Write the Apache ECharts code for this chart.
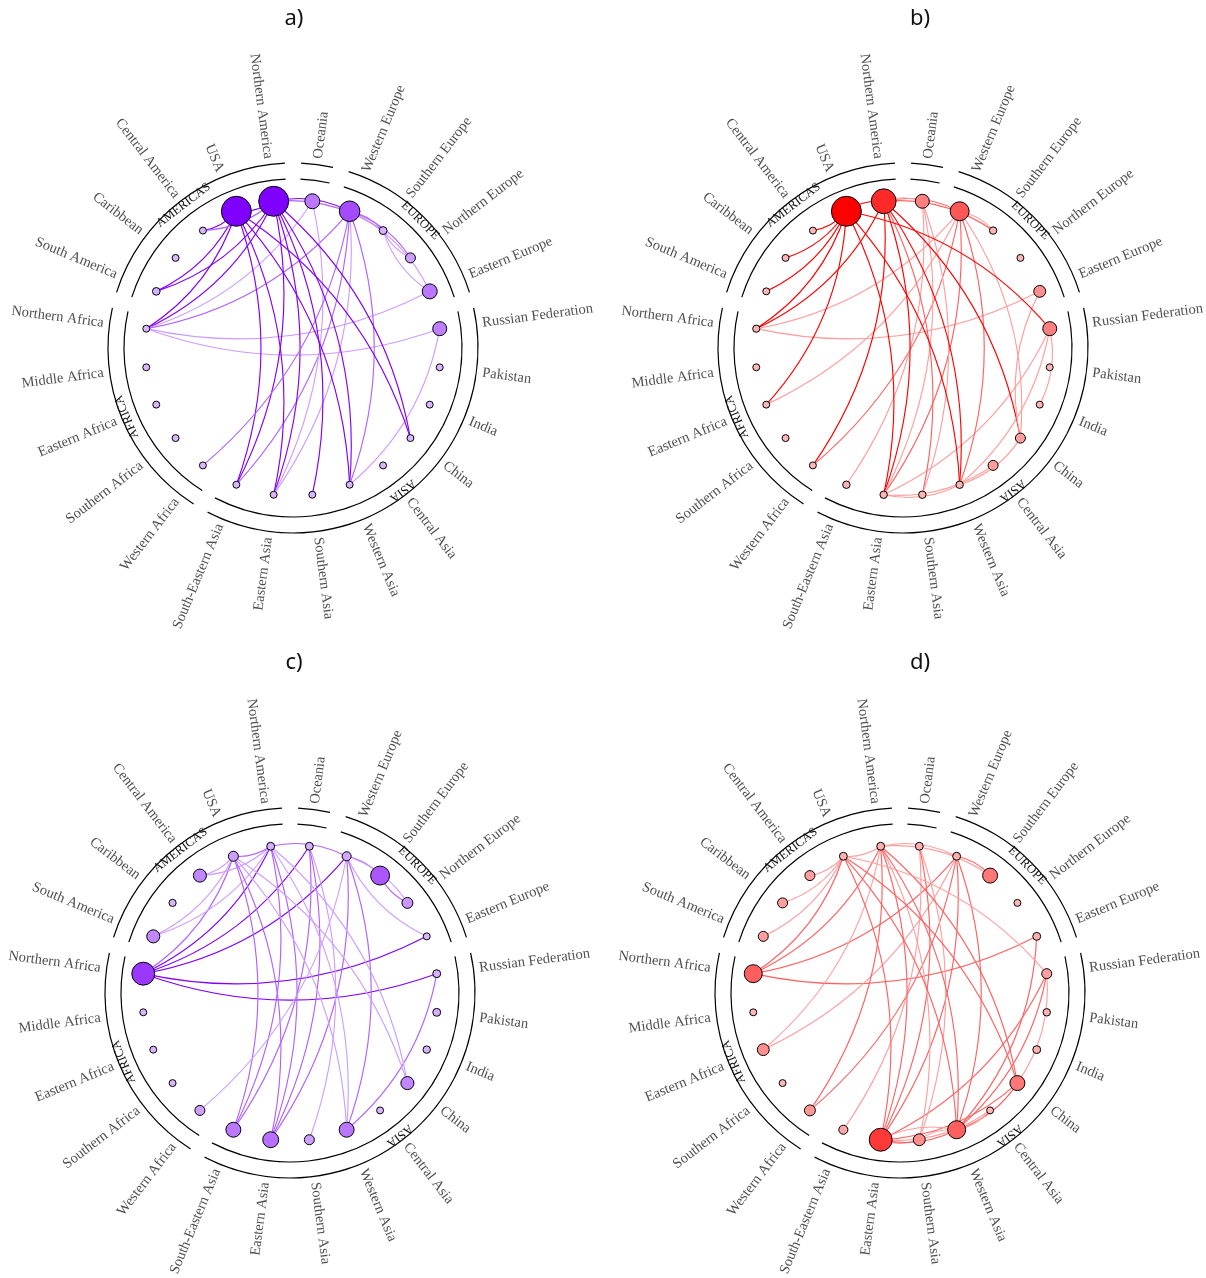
<!DOCTYPE html>
<html><head><meta charset="utf-8">
<script src="https://cdn.jsdelivr.net/npm/echarts@6/dist/echarts.min.js"></script>
<style>html,body{margin:0;padding:0;background:#fff}#c{width:1206px;height:1278px}</style>
</head><body><div id="c"></div>
<script>
// ---------------- data ----------------
const regions = ['Oceania','Western Europe','Southern Europe','Northern Europe','Eastern Europe','Russian Federation','Pakistan','India','China','Central Asia','Western Asia','Southern Asia','Eastern Asia','South-Eastern Asia','Western Africa','Southern Africa','Eastern Africa','Middle Africa','Northern Africa','South America','Caribbean','Central America','USA','Northern America'];
const groupNames = ['', 'EUROPE', 'ASIA', 'AFRICA', 'AMERICAS'];
const groupSizes = [1, 4, 9, 5, 5];
const panelTitles = ['a)', 'b)', 'c)', 'd)'];
const panelColors = ['#7F00FF', '#FF0000', '#7F00FF', '#FF0000'];

// node weights (0-100), in region order
const nodesA = [36,60,6,15,36,32,2,2,2,2,2,2,2,2,2,2,2,2,2,5,2,2,100,100];
const nodesB = [32,53,4,2,23,32,2,2,15,15,4,4,4,4,2,2,2,2,3,2,2,2,100,78];
const nodesC = [6,11,53,19,2,6,6,4,28,2,36,15,40,36,15,2,2,2,70,28,3,28,15,6];
const nodesD = [6,6,36,2,6,15,4,6,36,2,49,23,70,11,19,2,23,2,49,15,15,15,6,6];

// flows: [origin, destination, strength 1..3]
const edgesA = [
 ['USA','Northern America',3],['Central America','USA',3],['South America','USA',3],
 ['South America','Northern America',3],['Central America','Northern America',2],
 ['Northern Africa','USA',3],['Northern Africa','Northern America',3],['Northern Africa','Oceania',1],
 ['Northern Africa','Western Europe',2],['Northern Africa','Eastern Europe',1],['Northern Africa','Russian Federation',1],
 ['Western Europe','Northern America',3],['Southern Europe','Northern America',2],['Southern Europe','Western Europe',2],
 ['Northern Europe','Western Europe',2],['Eastern Europe','Western Europe',1],['Southern Europe','Eastern Europe',1],
 ['Southern Europe','Northern Europe',1],
 ['South-Eastern Asia','USA',3],['South-Eastern Asia','Northern America',3],['South-Eastern Asia','Western Europe',2],
 ['Eastern Asia','USA',3],['Eastern Asia','Northern America',3],['Eastern Asia','Oceania',1],['Eastern Asia','Western Europe',1],
 ['Western Africa','Western Europe',2],['Southern Asia','Northern America',3],
 ['Western Asia','USA',3],['Western Asia','Northern America',3],['Western Asia','Western Europe',2],['Western Asia','Russian Federation',1],
 ['China','USA',3],['China','Northern America',3]
];
const edgesB = [
 ['Northern America','USA',3],['Central America','USA',3],['Caribbean','USA',3],['South America','USA',3],
 ['Northern Africa','USA',3],['Northern Africa','Northern America',3],['Northern Africa','Western Europe',1],['Northern Africa','Eastern Europe',1],
 ['Eastern Africa','USA',3],['Eastern Africa','Western Europe',1],
 ['Western Africa','Northern America',3],['Western Africa','Western Europe',2],
 ['South-Eastern Asia','Oceania',1],
 ['Eastern Asia','USA',3],['Eastern Asia','Northern America',3],['Eastern Asia','Western Europe',2],['Eastern Asia','Oceania',1],
 ['Eastern Asia','Russian Federation',1],['Eastern Asia','Central Asia',1],['Eastern Asia','Western Asia',1],
 ['Southern Asia','Northern America',2],['Southern Asia','Oceania',1],
 ['Western Asia','USA',3],['Western Asia','Northern America',3],['Western Asia','Western Europe',2],
 ['Western Asia','Russian Federation',1],['Western Asia','China',1],
 ['China','Northern America',3],['China','Western Europe',1],['Eastern Europe','China',1],
 ['Russian Federation','USA',3],['India','Russian Federation',1],
 ['Western Europe','Northern America',2],['Southern Europe','Northern America',2],['Southern Europe','Western Europe',1],
 ['Oceania','Northern America',1]
];
const edgesC = [
 ['Northern Africa','USA',2],['Northern Africa','Northern America',3],['Northern Africa','Oceania',3],
 ['Northern Africa','Western Europe',3],['Northern Africa','Eastern Europe',3],['Northern Africa','Russian Federation',3],
 ['Central America','USA',1],['South America','USA',1],['Central America','Northern America',1],['South America','Northern America',1],
 ['USA','Northern America',2],['Western Europe','Northern America',2],['Southern Europe','Western Europe',2],
 ['Southern Europe','Northern Europe',2],['Northern Europe','Western Europe',1],['Western Europe','Eastern Europe',1],
 ['South-Eastern Asia','USA',2],['South-Eastern Asia','Northern America',2],['South-Eastern Asia','Oceania',2],
 ['Eastern Asia','USA',2],['Eastern Asia','Northern America',2],['Eastern Asia','Oceania',2],['Eastern Asia','Western Europe',2],
 ['Southern Asia','Oceania',1],['Western Africa','Western Europe',1],
 ['Western Asia','USA',1],['Western Asia','Northern America',1],['Western Asia','Western Europe',2],['Western Asia','Russian Federation',2],
 ['China','USA',1],['China','Northern America',1]
];
const edgesD = [
 ['Central America','USA',1],['Caribbean','USA',1],['South America','USA',1],
 ['Northern Africa','USA',2],['Northern Africa','Northern America',2],['Northern Africa','Western Europe',2],['Northern Africa','Eastern Europe',2],
 ['Eastern Africa','Northern America',1],['Eastern Africa','Western Europe',1],
 ['Western Africa','Northern America',2],['Western Africa','Western Europe',2],
 ['South-Eastern Asia','Oceania',1],
 ['Eastern Asia','USA',2],['Eastern Asia','Northern America',2],['Eastern Asia','Oceania',2],['Eastern Asia','Western Europe',2],
 ['Eastern Asia','Russian Federation',2],['Eastern Asia','Southern Asia',2],['Eastern Asia','Western Asia',2],
 ['Eastern Asia','China',2],['Eastern Asia','Central Asia',1],
 ['Southern Asia','Oceania',1],['Southern Asia','Northern America',1],
 ['Western Asia','USA',2],['Western Asia','Northern America',2],['Western Asia','Western Europe',2],
 ['Western Asia','Eastern Europe',2],['Western Asia','Russian Federation',2],['Western Asia','Eastern Asia',1],
 ['Western Asia','China',2],['Western Asia','Central Asia',1],['Western Asia','Southern Asia',1],
 ['China','USA',2],['China','Northern America',2],['China','Russian Federation',1],['Russian Federation','USA',1],
 ['USA','Northern America',1],['Western Europe','Northern America',1],['Southern Europe','Northern America',1],
 ['Southern Europe','Western Europe',2]
];

const panelNodes = [nodesA, nodesB, nodesC, nodesD];
const panelEdges = [edgesA, edgesB, edgesC, edgesD];

// ---------------- layout / style ----------------
const centers = [[293, 348], [903, 348], [290, 993], [900, 993]];
const titlePos = [[289, 3], [915, 3], [289, 647], [915, 647]];
const R = 200;            // polar radius (px) for radius value 1
const NODE_R = 0.74;      // node ring
const LABEL_R = 0.955;    // label ring
const STEP = 360 / regions.length;
const BEND = -0.18;       // every flow bends to the right of its direction

function hexToRgb(h) { return [parseInt(h.substr(1,2),16), parseInt(h.substr(3,2),16), parseInt(h.substr(5,2),16)]; }
function mix(base, t) {
  const b = hexToRgb(base);
  const c = b.map(v => Math.round(255 + (v - 255) * t));
  return 'rgb(' + c.join(',') + ')';
}
const edgeT = {1: 0.38, 2: 0.62, 3: 1.0};

const option = {
  animation: false,
  backgroundColor: '#fff',
  title: [],
  polar: [],
  angleAxis: [],
  radiusAxis: [],
  series: []
};

for (let p = 0; p < 4; p++) {
  const [cx, cy] = centers[p];
  const base = panelColors[p];
  option.title.push({
    text: panelTitles[p], left: titlePos[p][0], top: titlePos[p][1], textAlign: 'center',
    textStyle: { fontFamily: 'Noto Sans', fontSize: 22, fontWeight: 'normal', color: '#111' }
  });
  option.polar.push({ center: [cx, cy], radius: R });
  option.angleAxis.push({
    polarIndex: p, type: 'category', data: regions, startAngle: 90, clockwise: true,
    axisLine: { show: false }, axisTick: { show: false }, axisLabel: { show: false },
    splitLine: { show: false }, splitArea: { show: false }
  });
  option.radiusAxis.push({
    polarIndex: p, type: 'value', min: 0, max: 1,
    axisLine: { show: false }, axisTick: { show: false }, axisLabel: { show: false },
    splitLine: { show: false }
  });

  // group arcs (inner and outer) and group labels
  const groupData = groupNames.map((g, i) => ({ name: g, value: groupSizes[i] }));
  const ringCommon = {
    type: 'pie', center: [cx, cy], startAngle: 90, clockwise: true, padAngle: 5,
    silent: true, label: { show: false }, labelLine: { show: false },
    itemStyle: { color: '#000', borderWidth: 0 }, emphasis: { disabled: true }, z: 1
  };
  option.series.push(Object.assign({}, ringCommon, { radius: [168.4, 169.6], data: groupData }));
  option.series.push(Object.assign({}, ringCommon, { radius: [184.4, 185.6], data: groupData }));
  let acc = 0;
  const labelGroupData = groupNames.map((g, i) => {
    const mid = (acc + groupSizes[i] / 2) * STEP;
    acc += groupSizes[i];
    let rot = -mid;
    while (rot <= -180) rot += 360;
    return { name: g, value: groupSizes[i], label: { rotate: rot } };
  });
  option.series.push(Object.assign({}, ringCommon, {
    radius: [169.5, 184.5], data: labelGroupData,
    itemStyle: { color: 'rgba(0,0,0,0)' },
    label: { show: true, position: 'inside', formatter: '{b}', fontFamily: 'Liberation Serif', fontSize: 12.5, color: '#111' }
  }));

  // region labels
  option.series.push({
    type: 'scatter', coordinateSystem: 'polar', polarIndex: p, symbol: 'circle', symbolSize: 0,
    clip: false, silent: true, z: 2,
    label: { show: true, formatter: '{b}', fontFamily: 'Liberation Serif', fontSize: 14.5, color: '#222', distance: 0 },
    data: regions.map((name, i) => {
      const th = STEP / 2 + STEP * i;
      const right = th < 180;
      return { name, value: [LABEL_R, name], label: { position: right ? 'right' : 'left', rotate: right ? 90 - th : 270 - th } };
    })
  });

  // network
  const w = panelNodes[p];
  option.series.push({
    type: 'graph', coordinateSystem: 'polar', polarIndex: p, layout: 'none', silent: true, z: 3,
    label: { show: false },
    data: regions.map((name, i) => ({
      name, value: [NODE_R, name],
      symbolSize: 6.5 + 0.235 * w[i],
      itemStyle: { color: mix(base, 0.27 + 0.73 * w[i] / 100), borderColor: '#000', borderWidth: 1 }
    })),
    links: panelEdges[p].map(([s, t, k]) => ({
      source: s, target: t,
      lineStyle: { color: mix(base, edgeT[k]), width: 1.15, opacity: 1, curveness: BEND }
    }))
  });
}

const chart = echarts.init(document.getElementById('c'), null, { renderer: 'canvas' });
chart.setOption(option);
</script>
</body></html>
